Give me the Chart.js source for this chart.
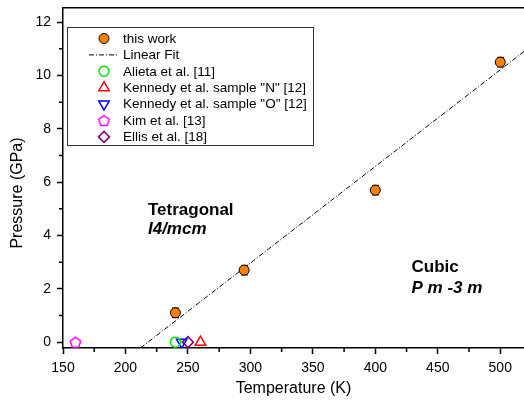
<!DOCTYPE html>
<html>
<head>
<meta charset="utf-8">
<script src="https://cdn.jsdelivr.net/npm/chart.js@4.4.1/dist/chart.umd.min.js"></script>
<style>
  html, body { margin: 0; padding: 0; background: #fff; }
  #wrap { position: relative; width: 524px; height: 403px; }
</style>
</head>
<body>
<div id="wrap"><canvas id="chart"></canvas></div>
<script>
// data
const workT = [240, 295, 400, 500];
const workP = [1.1, 2.7, 5.7, 10.5];
const workErr = [0.18, 0.18, 0.18, 0.18];
const fitT = [212, 519];
const fitP = [-0.22, 10.9];
const alietaT = [240];
const alietaP = [0];
const kennedyNT = [260];
const kennedyNP = [0];
const kennedyOT = [245];
const kennedyOP = [0];
const kimT = [160];
const kimP = [0];
const ellisT = [250];
const ellisP = [0];

const xTicks = [150, 200, 250, 300, 350, 400, 450, 500];
const xMinor = [175, 225, 275, 325, 375, 425, 475];
const yTicks = [0, 2, 4, 6, 8, 10, 12];
const yMinor = [1, 3, 5, 7, 9, 11];

const FONT = "'Liberation Sans', Arial, sans-serif";

function pts(xs, ys) {
  return xs.map((x, i) => ({ x: x, y: ys[i] }));
}

function makePentagon(color, r) {
  const size = Math.ceil(r * 2 + 4);
  const c = document.createElement("canvas");
  c.width = size;
  c.height = size;
  const g = c.getContext("2d");
  g.strokeStyle = color;
  g.lineWidth = 1.5;
  g.beginPath();
  for (let k = 0; k < 5; k++) {
    const a = -Math.PI / 2 + k * 2 * Math.PI / 5;
    const px = size / 2 + r * Math.cos(a);
    const py = size / 2 + 0.5 + r * Math.sin(a);
    if (k === 0) g.moveTo(px, py); else g.lineTo(px, py);
  }
  g.closePath();
  g.stroke();
  return c;
}

const pentagon = makePentagon("#ff00ff", 5.5);

function hollow(label, data, color, style, radius, rotation) {
  return {
    label: label,
    data: data,
    showLine: false,
    pointStyle: style,
    pointRotation: rotation || 0,
    pointRadius: radius,
    pointBorderWidth: 1.5,
    pointBorderColor: color,
    pointBackgroundColor: "rgba(0,0,0,0)",
    borderColor: color,
    backgroundColor: "rgba(0,0,0,0)",
  };
}

const datasets = [
  {
    label: "this work",
    data: pts(workT, workP),
    showLine: false,
    pointStyle: "circle",
    pointRadius: 5,
    pointBorderWidth: 1,
    pointBorderColor: "#000",
    pointBackgroundColor: "#ff8000",
    borderColor: "#000",
    backgroundColor: "#ff8000",
  },
  {
    label: "Linear Fit",
    data: pts(fitT, fitP),
    showLine: true,
    pointRadius: 0,
    borderColor: "#000",
    borderWidth: 1,
    borderDash: [5, 2, 1, 2],
    isFit: true,
  },
  hollow("Alieta et al. [11]", pts(alietaT, alietaP), "#00e000", "circle", 5),
  hollow("Kennedy et al. sample \"N\" [12]", pts(kennedyNT, kennedyNP), "#ff0000", "triangle", 6),
  hollow("Kennedy et al. sample \"O\" [12]", pts(kennedyOT, kennedyOP), "#0000ff", "triangle", 6, 180),
  hollow("Kim et al. [13]", pts(kimT, kimP), "#ff00ff", pentagon, 5),
  hollow("Ellis et al. [18]", pts(ellisT, ellisP), "#800080", "rectRot", 5.5),
];

const overlay = {
  id: "overlay",
  beforeDatasetsDraw(chart) {
    const ctx = chart.ctx;
    const xs = chart.scales.x;
    const ys = chart.scales.y;
    ctx.save();
    ctx.strokeStyle = "#000";
    ctx.lineWidth = 1;
    workT.forEach((t, i) => {
      const x = Math.round(xs.getPixelForValue(t)) + 0.5;
      const y1 = ys.getPixelForValue(workP[i] + workErr[i]);
      const y2 = ys.getPixelForValue(workP[i] - workErr[i]);
      ctx.beginPath();
      ctx.moveTo(x, y1);
      ctx.lineTo(x, y2);
      ctx.moveTo(x - 3.5, y1);
      ctx.lineTo(x + 3.5, y1);
      ctx.moveTo(x - 3.5, y2);
      ctx.lineTo(x + 3.5, y2);
      ctx.stroke();
    });
    ctx.restore();
  },
  afterDraw(chart) {
    const ctx = chart.ctx;
    const xs = chart.scales.x;
    const ys = chart.scales.y;
    const area = chart.chartArea;
    ctx.save();

    // minor ticks
    ctx.strokeStyle = "#000";
    ctx.lineWidth = 1.5;
    ctx.beginPath();
    xMinor.forEach((v) => {
      const x = xs.getPixelForValue(v);
      ctx.moveTo(x, area.bottom);
      ctx.lineTo(x, area.bottom + 4);
    });
    yMinor.forEach((v) => {
      const y = ys.getPixelForValue(v);
      ctx.moveTo(area.left, y);
      ctx.lineTo(area.left - 4, y);
    });
    ctx.stroke();

    // y axis title
    ctx.fillStyle = "#000";
    ctx.font = "16px " + FONT;
    ctx.textAlign = "center";
    ctx.textBaseline = "middle";
    ctx.save();
    ctx.translate(18, 193);
    ctx.rotate(-Math.PI / 2);
    ctx.fillText("Pressure (GPa)", 0, 0);
    ctx.restore();

    // phase labels
    ctx.textAlign = "left";
    ctx.font = "bold 17px " + FONT;
    ctx.fillText("Tetragonal", xs.getPixelForValue(218), ys.getPixelForValue(4.95));
    ctx.fillText("Cubic", xs.getPixelForValue(429), ys.getPixelForValue(2.8));
    ctx.font = "italic bold 17px " + FONT;
    ctx.fillText("I4/mcm", xs.getPixelForValue(218), ys.getPixelForValue(4.24));
    ctx.fillText("P m -3 m", xs.getPixelForValue(429), ys.getPixelForValue(2.0));

    // legend box
    const box = { left: 67.5, top: 27.5, right: 313.5, bottom: 145.5 };
    ctx.fillStyle = "#fff";
    ctx.fillRect(box.left, box.top, box.right - box.left, box.bottom - box.top);
    ctx.strokeStyle = "#333";
    ctx.lineWidth = 1;
    ctx.strokeRect(box.left, box.top, box.right - box.left, box.bottom - box.top);

    ctx.font = "13.5px " + FONT;
    ctx.textBaseline = "middle";
    chart.data.datasets.forEach((ds, i) => {
      const y = 38.5 + i * 16.4;
      const mx = 104;
      if (ds.isFit) {
        ctx.save();
        ctx.strokeStyle = ds.borderColor;
        ctx.lineWidth = 1;
        ctx.setLineDash(ds.borderDash);
        ctx.beginPath();
        ctx.moveTo(89, y);
        ctx.lineTo(119, y);
        ctx.stroke();
        ctx.restore();
      } else {
        ctx.save();
        ctx.fillStyle = ds.pointBackgroundColor;
        ctx.strokeStyle = ds.pointBorderColor;
        ctx.lineWidth = ds.pointBorderWidth;
        Chart.helpers.drawPoint(ctx, {
          pointStyle: ds.pointStyle,
          rotation: ds.pointRotation || 0,
          radius: ds.pointRadius,
          borderWidth: ds.pointBorderWidth,
        }, mx, y);
        ctx.restore();
      }
      ctx.fillStyle = "#000";
      ctx.fillText(ds.label, 123, y + 0.5);
    });

    ctx.restore();
  },
};

new Chart(document.getElementById("chart"), {
  type: "scatter",
  data: { datasets: datasets },
  options: {
    responsive: true,
    maintainAspectRatio: false,
    animation: false,
    layout: { autoPadding: false, padding: { top: 8, right: 0, bottom: 0, left: 0 } },
    plugins: {
      legend: { display: false },
      tooltip: { enabled: false },
    },
    scales: {
      x: {
        type: "linear",
        min: 150,
        max: 519,
        afterBuildTicks: (s) => { s.ticks = xTicks.map((v) => ({ value: v })); },
        afterFit: (s) => { s.height = 55; s.paddingLeft = 0; s.paddingRight = 0; },
        grid: { drawOnChartArea: false, tickLength: 6, tickColor: "#000", tickWidth: 1.5 },
        border: { color: "#000", width: 1.5 },
        ticks: { color: "#000", font: { family: FONT, size: 14 }, padding: 6, maxRotation: 0 },
        title: {
          display: true,
          text: "Temperature (K)",
          color: "#000",
          font: { family: FONT, size: 16 },
          padding: { top: 0, bottom: 5 },
        },
      },
      x2: {
        type: "linear",
        position: "top",
        min: 150,
        max: 519,
        afterFit: (s) => { s.height = 0; s.paddingLeft = 0; s.paddingRight = 0; },
        grid: { display: false },
        ticks: { display: false },
        border: { color: "#000", width: 1.5 },
      },
      y: {
        type: "linear",
        min: -0.22,
        max: 12.53,
        afterBuildTicks: (s) => { s.ticks = yTicks.map((v) => ({ value: v })); },
        afterFit: (s) => { s.width = 63; s.paddingTop = 0; s.paddingBottom = 0; },
        grid: { drawOnChartArea: false, tickLength: 6, tickColor: "#000", tickWidth: 1.5 },
        border: { color: "#000", width: 1.5 },
        ticks: { color: "#000", font: { family: FONT, size: 14 }, padding: 6 },
      },
    },
  },
  plugins: [overlay],
});
</script>
</body>
</html>
